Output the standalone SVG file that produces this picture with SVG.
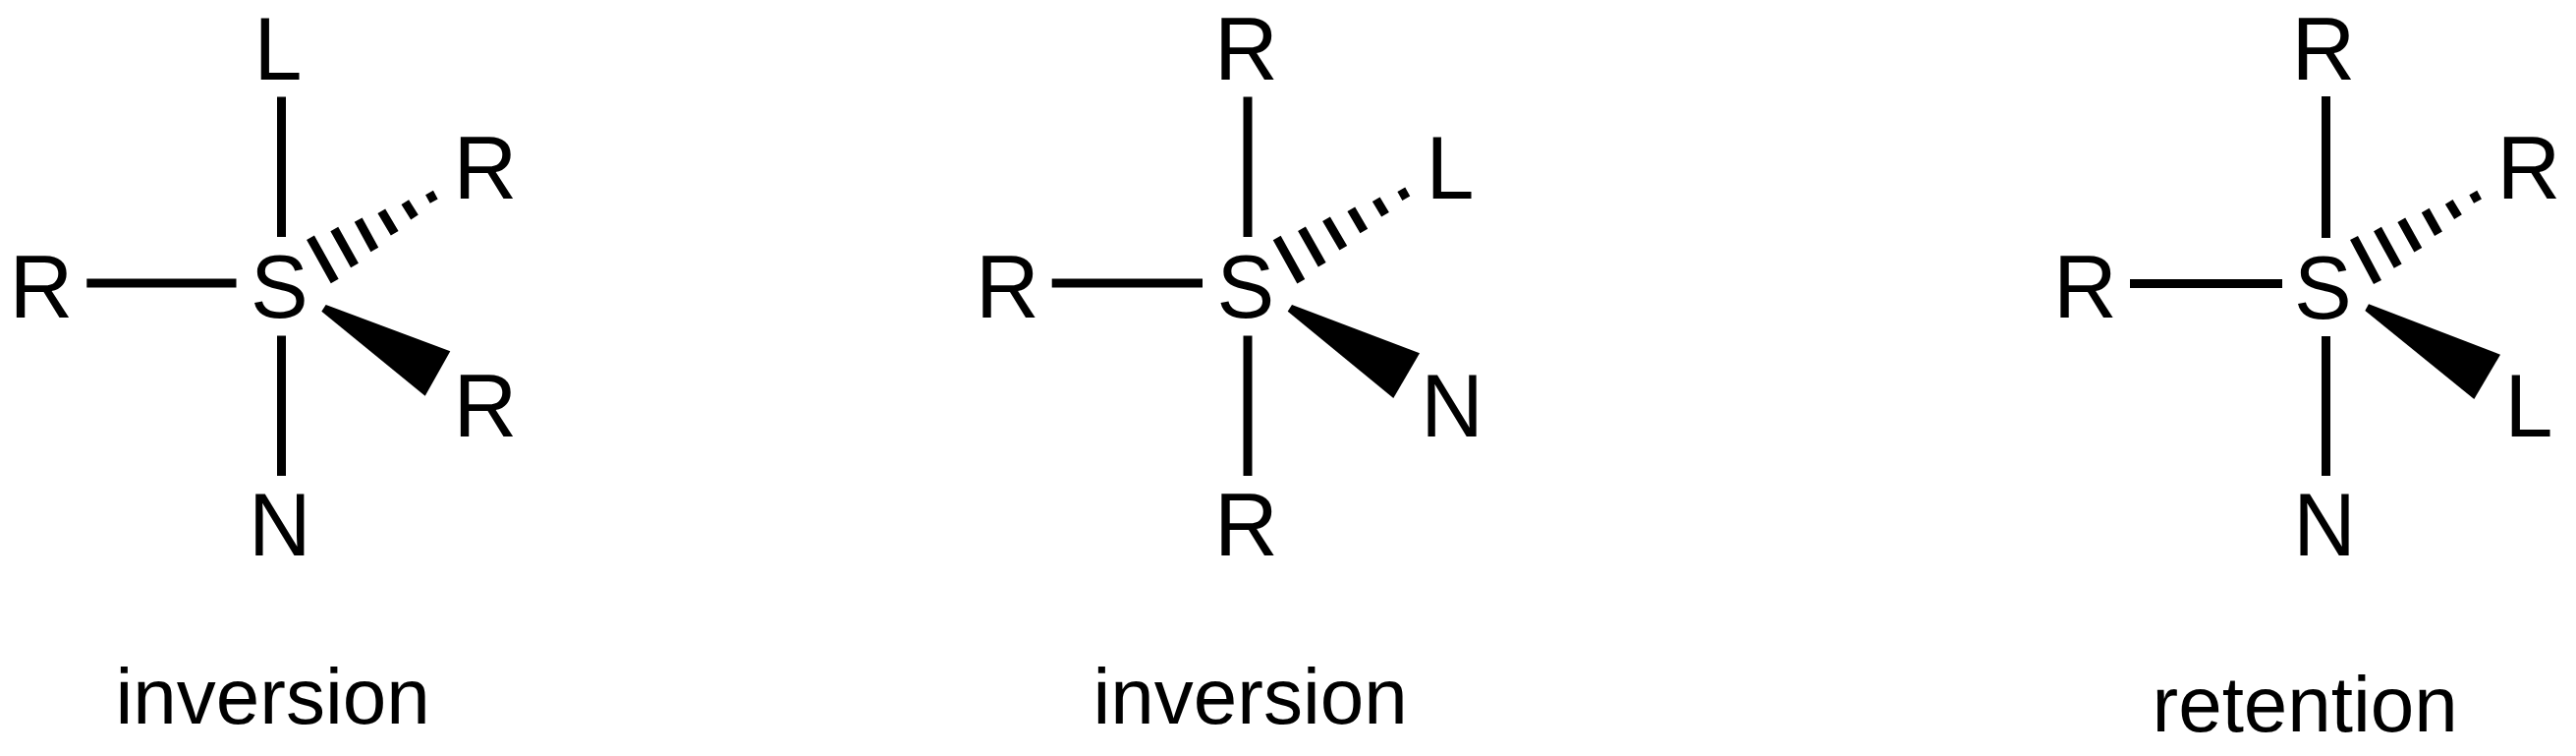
<svg xmlns="http://www.w3.org/2000/svg" width="2622" height="769" viewBox="0 0 2622 769">
<style>
text{font-family:"Liberation Sans",Arial,sans-serif;fill:#000}
.a{font-size:88px}
.c{font-size:80px}
.b{stroke:#000;stroke-width:9;fill:none}
.h{stroke:#000;stroke-width:9;fill:none}
.w{fill:#000;stroke:none}
</style>
<rect width="2622" height="769" fill="#fff"/>
<g id="connectors">
<g id="m1-bonds">
<path class="b" d="M286.5 98.5V241M286.5 341.5V484M88.3 288H240.5"/>
<path class="h" d="M316 241.7L340.7 286M340.3 233L361 270M364.7 223.7L381.3 254M388.3 214.7L401.7 237.3M412.3 205.7L422 221M437 196L441.7 204.7"/>
<polygon class="w" points="327.3,316.7 331.7,310 458.3,357.3 432.7,402.7"/>
</g>
<g id="m2-bonds">
<path class="b" d="M1270 98.5V241M1270 341.5V484M1070.7 288H1224"/>
<path class="h" d="M1299.7 242L1324.3 286.3M1325 232.7L1345.7 269.3M1350 222.7L1367.3 252.3M1375.3 212.7L1388.3 235M1400.7 202.7L1410 218.3M1426.3 192.7L1431.3 201.7"/>
<polygon class="w" points="1310.7,316.7 1315,310 1445,359.3 1418.3,405"/>
</g>
<g id="m3-bonds">
<path class="b" d="M2367.5 98V242M2367.5 342V484M2168 288.5H2323"/>
<path class="h" d="M2396 242L2420 287M2420 233L2440.7 270.7M2444.3 223.7L2461.3 254.3M2468.7 214L2482 237.7M2492.7 205.3L2502 220.7M2517.3 196L2522 204.7"/>
<polygon class="w" points="2407.3,316 2411,309.3 2545,360.7 2518.3,406"/>
</g>
</g>
<g id="m1-top"><text class="a" transform="translate(258.5 81) scale(1 1.04)">L</text></g>
<g id="m1-left"><text class="a" transform="translate(9.5 322.7) scale(1.02 1.04)">R</text></g>
<g id="m1-S"><text class="a" transform="translate(255 323) scale(1 1.04)">S</text></g>
<g id="m1-hash"><text class="a" transform="translate(461.5 201.7) scale(1.02 1.04)">R</text></g>
<g id="m1-wedge"><text class="a" transform="translate(461.5 443.5) scale(1.02 1.04)">R</text></g>
<g id="m1-bottom"><text class="a" transform="translate(253 565) scale(1 1.04)">N</text></g>
<g id="m1-caption"><text class="c" x="117.5" y="736">inversion</text></g>
<g id="m2-top"><text class="a" transform="translate(1235.9 81) scale(1.02 1.04)">R</text></g>
<g id="m2-left"><text class="a" transform="translate(993.1 322.7) scale(1.02 1.04)">R</text></g>
<g id="m2-S"><text class="a" transform="translate(1238.6 323) scale(1 1.04)">S</text></g>
<g id="m2-hash"><text class="a" transform="translate(1451.5 201.7) scale(1 1.04)">L</text></g>
<g id="m2-wedge"><text class="a" transform="translate(1446.3 443.5) scale(1 1.04)">N</text></g>
<g id="m2-bottom"><text class="a" transform="translate(1235.9 565) scale(1.02 1.04)">R</text></g>
<g id="m2-caption"><text class="c" x="1112.5" y="736">inversion</text></g>
<g id="m3-top"><text class="a" transform="translate(2332.5 81) scale(1.02 1.04)">R</text></g>
<g id="m3-left"><text class="a" transform="translate(2090 323) scale(1.02 1.04)">R</text></g>
<g id="m3-S"><text class="a" transform="translate(2335 323.5) scale(1 1.04)">S</text></g>
<g id="m3-hash"><text class="a" transform="translate(2541.5 202) scale(1.02 1.04)">R</text></g>
<g id="m3-wedge"><text class="a" transform="translate(2549.5 443.6) scale(1 1.04)">L</text></g>
<g id="m3-bottom"><text class="a" transform="translate(2334.3 565) scale(1 1.04)">N</text></g>
<g id="m3-caption"><text class="c" x="2190.5" y="744">retention</text></g>
</svg>
